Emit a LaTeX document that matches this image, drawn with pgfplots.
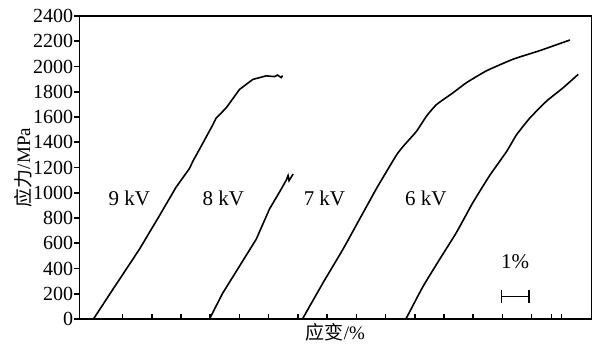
\documentclass[border=0pt]{standalone}
\usepackage{fontspec}
\setmainfont{Liberation Serif}
\newfontfamily\cjk{Noto Sans CJK SC}
\usepackage{pgfplots}
\pgfplotsset{compat=1.18}
\begin{document}
\begin{tikzpicture}
\begin{axis}[
  scale only axis,
  width=256.2pt, height=151.5pt,
  xmin=-0.485, xmax=17.06,
  ymin=0, ymax=2400,
  ytick={0,200,...,2400},
  xtick={1,2,3,4,5,6,7,8,9,10,11,12,13,14,15,15.68,16.02},
  xticklabels={},
  xtick pos=bottom, ytick pos=left,
  tick align=inside,
  major tick length=2.7pt,
  ytick style={xshift=-2.7pt},
  tick style={black, line width=0.8pt},
  axis line style={line width=0.7pt},
  /pgf/number format/assume math mode=true,
  /pgf/number format/1000 sep={},
  tick label style={font=\fontsize{10}{12}\selectfont},
  yticklabel style={xshift=0.5pt},
  xlabel={{\cjk 应变}/\%},
  ylabel={{\cjk 应力}/MPa},
  label style={font=\fontsize{9.5}{11}\selectfont},
  xlabel style={at={(rel axis cs:0.5,-0.045)}, anchor=center},
  ylabel style={at={(rel axis cs:-0.11,0.5)}, anchor=center},
  clip=false,
]
% 9 kV
\addplot[black, line width=0.8pt] coordinates {
(0.0,0) (0.657,232) (1.572,552) (2.258,818) (2.831,1045) (3.287,1192)
(3.400,1248) (3.743,1392) (4.086,1538) (4.202,1592) (4.544,1672)
(5.000,1818) (5.457,1898) (5.916,1926) (6.201,1920) (6.303,1932)
(6.430,1912) (6.475,1928)};
% 8 kV
\addplot[black, line width=0.8pt] coordinates {
(3.972,0) (4.428,206) (4.999,418) (5.573,632) (6.029,872) (6.372,1006)
(6.602,1100) (6.663,1136) (6.698,1096) (6.835,1148)};
% 7 kV
\addplot[black, line width=0.8pt, smooth, tension=0.3] coordinates {
(7.156,0) (7.856,285) (8.542,552) (9.114,792) (9.687,1032) (10.030,1166)
(10.373,1298) (10.599,1366) (11.058,1486) (11.401,1606) (11.744,1698)
(12.313,1792) (12.772,1872) (13.458,1966) (14.370,2058) (15.285,2126)
(16.314,2210)};
% 6 kV
\addplot[black, line width=0.8pt, smooth, tension=0.3] coordinates {
(10.692,0) (10.770,32) (11.285,258) (11.857,474) (12.430,686) (12.999,925)
(13.571,1138) (14.144,1326) (14.486,1459) (14.942,1592) (15.515,1726)
(16.084,1832) (16.598,1938)};
\node[font=\fontsize{10.5}{12}\selectfont] at (axis cs:1.23,952) {9 kV};
\node[font=\fontsize{10.5}{12}\selectfont] at (axis cs:4.45,952) {8 kV};
\node[font=\fontsize{10.5}{12}\selectfont] at (axis cs:7.91,952) {7 kV};
\node[font=\fontsize{10.5}{12}\selectfont] at (axis cs:11.38,952) {6 kV};
\node[font=\fontsize{10.5}{12}\selectfont] at (axis cs:14.44,458) {1\%};
\draw[line width=0.7pt] (axis cs:13.97,178) -- (axis cs:14.92,178);
\draw[line width=0.7pt] (axis cs:13.97,130) -- (axis cs:13.97,226);
\draw[line width=0.7pt] (axis cs:14.92,130) -- (axis cs:14.92,226);
\coordinate (ll) at (rel axis cs:0,0);
\end{axis}
\pgfresetboundingbox
\path[use as bounding box] ([xshift=-39.65pt,yshift=-12.5pt]ll) rectangle ([xshift=258.35pt,yshift=159.5pt]ll);
\end{tikzpicture}
\end{document}
